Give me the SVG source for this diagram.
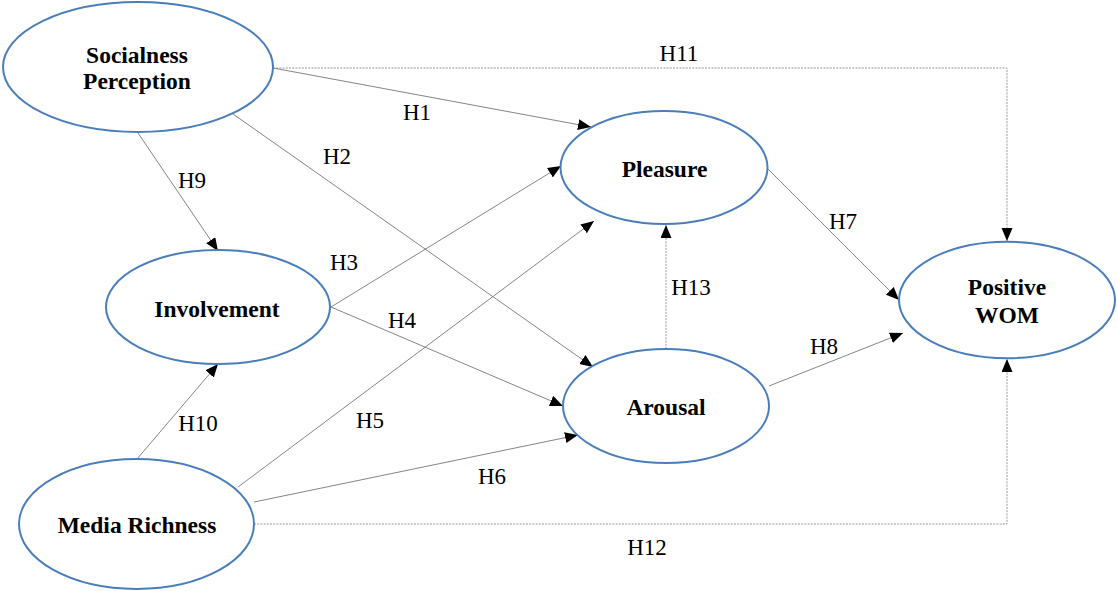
<svg xmlns="http://www.w3.org/2000/svg" width="1117" height="591" viewBox="0 0 1117 591" font-family="Liberation Serif, Tinos, DejaVu Serif, serif">
<style>
.node ellipse{fill:#fff;stroke:#4a7ebb;stroke-width:2}
.nl{font-weight:bold;font-size:23.5px;fill:#000;text-anchor:middle}
.el{font-size:23px;fill:#000;text-anchor:middle}
.c{fill:none;stroke:#666;stroke-width:0.8;marker-end:url(#ah)}
.d{fill:none;stroke:#999;stroke-width:1;stroke-dasharray:2 1.2;marker-end:url(#ah)}
</style>
<defs>
<marker id="ah" markerUnits="userSpaceOnUse" markerWidth="14" markerHeight="12" refX="13" refY="5.5" orient="auto">
<path d="M0,0 L13,5.5 L0,11 z" fill="#000"/>
</marker>
</defs>
<rect width="1117" height="591" fill="#fff"/>
<g id="connectors">
<path class="d" d="M273,68 H1007 V241"/>
<path class="d" d="M254,524 H1007 V359"/>
<path class="d" d="M666,349 V225"/>
<path class="c" d="M273,68 L591,127"/>
<path class="c" d="M233,114 L593,367"/>
<path class="c" d="M138,133 L218,251"/>
<path class="c" d="M137,459 L218,364"/>
<path class="c" d="M331,307 L561,166"/>
<path class="c" d="M331,307 L563,406"/>
<path class="c" d="M238,487 L594,221"/>
<path class="c" d="M254,502 L578,435"/>
<path class="c" d="M767,168 L899,300"/>
<path class="c" d="M769,386 L903,333"/>
</g>
<g id="edge-labels" font-family="Liberation Serif, serif">
<text class="el" x="679" y="61">H11</text>
<text class="el" x="417" y="120">H1</text>
<text class="el" x="337" y="164">H2</text>
<text class="el" x="192" y="188">H9</text>
<text class="el" x="344" y="270">H3</text>
<text class="el" x="402" y="328">H4</text>
<text class="el" x="198" y="431">H10</text>
<text class="el" x="370" y="428">H5</text>
<text class="el" x="492" y="484">H6</text>
<text class="el" x="647" y="555">H12</text>
<text class="el" x="691" y="295">H13</text>
<text class="el" x="843" y="229">H7</text>
<text class="el" x="824" y="354">H8</text>
</g>
<g id="socialness" class="node">
<ellipse cx="138" cy="67" rx="135" ry="65"/>
<text class="nl" x="137" y="63">Socialness</text>
<text class="nl" x="137" y="89">Perception</text>
</g>
<g id="involvement" class="node">
<ellipse cx="218" cy="307" rx="112" ry="57"/>
<text class="nl" x="217" y="317">Involvement</text>
</g>
<g id="media-richness" class="node">
<ellipse cx="136.5" cy="524" rx="117.5" ry="65"/>
<text class="nl" x="137" y="533">Media Richness</text>
</g>
<g id="pleasure" class="node">
<ellipse cx="664" cy="167.5" rx="103.5" ry="56.5"/>
<text class="nl" x="664.5" y="177">Pleasure</text>
</g>
<g id="arousal" class="node">
<ellipse cx="666" cy="406" rx="103" ry="57"/>
<text class="nl" x="666" y="415">Arousal</text>
</g>
<g id="positive-wom" class="node">
<ellipse cx="1007" cy="300" rx="108" ry="58.3"/>
<text class="nl" x="1007" y="295">Positive</text>
<text class="nl" x="1007" y="322.5">WOM</text>
</g>
</svg>
